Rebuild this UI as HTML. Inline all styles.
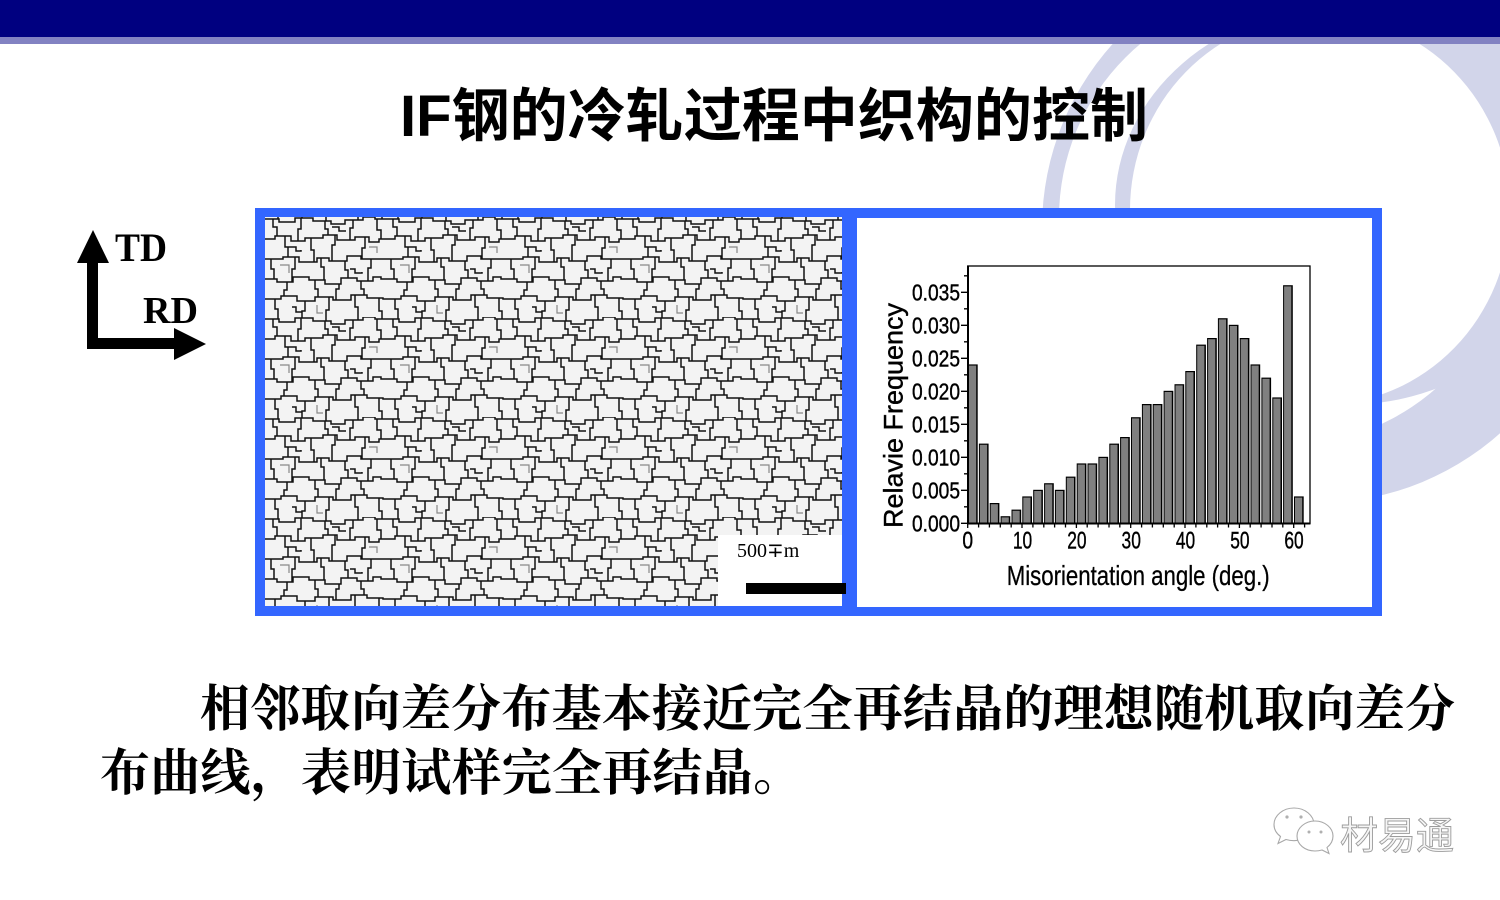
<!DOCTYPE html>
<html>
<head>
<meta charset="utf-8">
<style>
html,body{margin:0;padding:0;background:#fff;}
body{width:1500px;height:900px;overflow:hidden;}
svg{display:block;}
</style>
</head>
<body>
<svg width="1500" height="900" viewBox="0 0 1500 900" xmlns="http://www.w3.org/2000/svg">
<defs>
<pattern id="grain" patternUnits="userSpaceOnUse" x="265" y="217" width="120" height="100">
<rect width="120" height="100" fill="#f3f3f3"/>
<path fill="none" stroke="#111" stroke-width="1.5" d="
M0,2 H14 V5 H30 V1 H48 V4 H66 V7 H80 V3 H98 V0 H110 V2 H120
M0,22 H10 V19 H26 V24 H40 V21 H58 V18 H72 V23 H90 V20 H104 V25 H114 V22 H120
M0,42 H18 V40 H34 V45 H52 V41 H64 V44 H82 V39 H96 V42 H120
M0,62 H12 V65 H28 V60 H44 V63 H60 V67 H76 V61 H92 V64 H108 V60 H116 V62 H120
M0,82 H16 V79 H32 V84 H50 V80 H68 V83 H86 V78 H102 V81 H118 V82 H120
M8,2 V10 H12 V19
M36,1 V12 H33 V24
M60,4 V12 H63 V18
M88,3 V11 H85 V23
M112,2 V13 H116 V22
M20,19 V30 H23 V40
M46,21 V33 H49 V45
M70,18 V28 H67 V44
M100,20 V31 H97 V42
M6,42 V52 H9 V62
M30,40 V52 H27 V65
M56,41 V50 H59 V63
M80,44 V53 H83 V61
M106,42 V51 H103 V64
M22,65 V73 H19 V79
M50,63 V72 H53 V80
M74,67 V72 H71 V83
M96,64 V72 H99 V78
M10,82 V92 H13 V102
M40,84 V94 H37 V101
M64,80 V93 H61 V104
M90,78 V90 H93 V103
M114,81 V94 H117 V102
M13,-1 V2 M37,-1 V1 M61,-1 V4 M93,-1 V3 M117,-1 V2
M23,30 H31 V34 H36 V33
M85,52 H90 V56 H97 V55
M27,90 H31 V95 H37
M67,10 H74 V14 H81
"/>
<path fill="none" stroke="#888" stroke-width="1.2" d="M52,88 V96 H58 M15,48 H24 V56 M104,30 H112 V36"/>
</pattern>
</defs>

<!-- decorative arcs -->
<path fill="#d2d5ea" fill-rule="evenodd" d="
M1042,228 a275,275 0 1,0 550,0 a275,275 0 1,0 -550,0 Z
M1059,218 a227,227 0 1,0 454,0 a227,227 0 1,0 -454,0 Z"/>
<path fill="#d2d5ea" fill-rule="evenodd" d="
M1115,205 a230,200 0 1,0 460,0 a230,200 0 1,0 -460,0 Z
M1130,210 a190,195 0 1,0 380,0 a190,195 0 1,0 -380,0 Z"/>

<!-- header -->
<rect x="0" y="0" width="1500" height="37" fill="#000080"/>
<rect x="0" y="37" width="1500" height="7" fill="#8282c2"/>

<!-- title -->
<text x="400" y="136" font-family="'Liberation Sans','Noto Sans CJK SC',sans-serif" font-weight="700" font-size="58" fill="#000" textLength="748" lengthAdjust="spacingAndGlyphs">IF钢的冷轧过程中织构的控制</text>

<!-- TD / RD arrows -->
<rect x="87" y="260" width="11" height="89" fill="#000"/>
<polygon points="77,263 109,263 93,230" fill="#000"/>
<rect x="87" y="338" width="89" height="11" fill="#000"/>
<polygon points="174,328 174,360 206,344" fill="#000"/>
<text x="115" y="261" font-family="'Liberation Serif',serif" font-weight="700" font-size="40" textLength="52" lengthAdjust="spacingAndGlyphs">TD</text>
<text x="143" y="323" font-family="'Liberation Serif',serif" font-weight="700" font-size="38" textLength="55" lengthAdjust="spacingAndGlyphs">RD</text>

<!-- panel -->
<rect x="255" y="208" width="1127" height="408" fill="#3366ff"/>
<rect x="265" y="217" width="577" height="389" fill="url(#grain)"/>
<rect x="718" y="535" width="124" height="71" fill="#ffffff"/>
<text x="737" y="557" font-family="'Liberation Serif',serif" font-size="20" fill="#000">500∓m</text>
<rect x="746" y="583" width="100" height="11" fill="#000"/>
<rect x="857" y="218" width="515" height="389" fill="#ffffff"/>

<!-- chart -->
<g>
<rect x="967.7" y="266" width="342.3" height="257.3" fill="none" stroke="#000" stroke-width="1.3"/>
<g fill="#000">
<rect x="968" y="364.4" width="9.7" height="158.9"/>
<rect x="978.9" y="443.6" width="9.7" height="79.7"/>
<rect x="989.7" y="503" width="9.7" height="20.3"/>
<rect x="1000.6" y="516.2" width="9.7" height="7.1"/>
<rect x="1011.5" y="509.6" width="9.7" height="13.7"/>
<rect x="1022.3" y="496.4" width="9.7" height="26.9"/>
<rect x="1033.2" y="489.8" width="9.7" height="33.5"/>
<rect x="1044.1" y="483.2" width="9.7" height="40.1"/>
<rect x="1054.9" y="489.8" width="9.7" height="33.5"/>
<rect x="1065.8" y="476.6" width="9.7" height="46.7"/>
<rect x="1076.7" y="463.4" width="9.7" height="59.9"/>
<rect x="1087.5" y="463.4" width="9.7" height="59.9"/>
<rect x="1098.4" y="456.8" width="9.7" height="66.5"/>
<rect x="1109.3" y="443.6" width="9.7" height="79.7"/>
<rect x="1120.1" y="437" width="9.7" height="86.3"/>
<rect x="1131" y="417.2" width="9.7" height="106.1"/>
<rect x="1141.9" y="404" width="9.7" height="119.3"/>
<rect x="1152.7" y="404" width="9.7" height="119.3"/>
<rect x="1163.6" y="390.8" width="9.7" height="132.5"/>
<rect x="1174.5" y="384.2" width="9.7" height="139.1"/>
<rect x="1185.3" y="371" width="9.7" height="152.3"/>
<rect x="1196.2" y="344.6" width="9.7" height="178.7"/>
<rect x="1207.1" y="338" width="9.7" height="185.3"/>
<rect x="1217.9" y="318.2" width="9.7" height="205.1"/>
<rect x="1228.8" y="324.8" width="9.7" height="198.5"/>
<rect x="1239.7" y="338" width="9.7" height="185.3"/>
<rect x="1250.5" y="364.4" width="9.7" height="158.9"/>
<rect x="1261.4" y="377.6" width="9.7" height="145.7"/>
<rect x="1272.3" y="397.4" width="9.7" height="125.9"/>
<rect x="1283.1" y="285.2" width="9.7" height="238.1"/>
<rect x="1294" y="496.4" width="9.7" height="26.9"/>
</g>
<g fill="#808080">
<rect x="969" y="365.6" width="7.2" height="157.7"/>
<rect x="979.9" y="444.8" width="7.2" height="78.5"/>
<rect x="990.7" y="504.2" width="7.2" height="19.1"/>
<rect x="1001.6" y="517.4" width="7.2" height="5.9"/>
<rect x="1012.5" y="510.8" width="7.2" height="12.5"/>
<rect x="1023.3" y="497.6" width="7.2" height="25.7"/>
<rect x="1034.2" y="491" width="7.2" height="32.3"/>
<rect x="1045.1" y="484.4" width="7.2" height="38.9"/>
<rect x="1055.9" y="491" width="7.2" height="32.3"/>
<rect x="1066.8" y="477.8" width="7.2" height="45.5"/>
<rect x="1077.7" y="464.6" width="7.2" height="58.7"/>
<rect x="1088.5" y="464.6" width="7.2" height="58.7"/>
<rect x="1099.4" y="458" width="7.2" height="65.3"/>
<rect x="1110.3" y="444.8" width="7.2" height="78.5"/>
<rect x="1121.1" y="438.2" width="7.2" height="85.1"/>
<rect x="1132" y="418.4" width="7.2" height="104.9"/>
<rect x="1142.9" y="405.2" width="7.2" height="118.1"/>
<rect x="1153.7" y="405.2" width="7.2" height="118.1"/>
<rect x="1164.6" y="392" width="7.2" height="131.3"/>
<rect x="1175.5" y="385.4" width="7.2" height="137.9"/>
<rect x="1186.3" y="372.2" width="7.2" height="151.1"/>
<rect x="1197.2" y="345.8" width="7.2" height="177.5"/>
<rect x="1208.1" y="339.2" width="7.2" height="184.1"/>
<rect x="1218.9" y="319.4" width="7.2" height="203.9"/>
<rect x="1229.8" y="326" width="7.2" height="197.3"/>
<rect x="1240.7" y="339.2" width="7.2" height="184.1"/>
<rect x="1251.5" y="365.6" width="7.2" height="157.7"/>
<rect x="1262.4" y="378.8" width="7.2" height="144.5"/>
<rect x="1273.3" y="398.6" width="7.2" height="124.7"/>
<rect x="1284.1" y="286.4" width="7.2" height="236.9"/>
<rect x="1295" y="497.6" width="7.2" height="25.7"/>
</g>
<!-- axes -->
<line x1="968" y1="266" x2="968" y2="524.5" stroke="#000" stroke-width="2"/>
<line x1="967" y1="523.5" x2="1310.5" y2="523.5" stroke="#000" stroke-width="2"/>
<!-- y ticks -->
<path stroke="#000" stroke-width="1.3" fill="none" d="
M961,523.3 H968 M961,490.3 H968 M961,457.3 H968 M961,424.3 H968 M961,391.3 H968 M961,358.3 H968 M961,325.3 H968 M961,292.3 H968
M964,506.8 H968 M964,473.8 H968 M964,440.8 H968 M964,407.8 H968 M964,374.8 H968 M964,341.8 H968 M964,308.8 H968 M964,275.8 H968"/>
<!-- x ticks -->
<path stroke="#000" stroke-width="1.3" fill="none" d="
M967.7,523 V528 M978.6,523 V527.5 M989.4,523 V527.5 M1000.3,523 V527.5 M1011.2,523 V527.5
M1022,523 V528 M1032.9,523 V527.5 M1043.8,523 V527.5 M1054.6,523 V527.5 M1065.5,523 V527.5
M1076.4,523 V528 M1087.2,523 V527.5 M1098.1,523 V527.5 M1109,523 V527.5 M1119.8,523 V527.5
M1130.7,523 V528 M1141.6,523 V527.5 M1152.4,523 V527.5 M1163.3,523 V527.5 M1174.2,523 V527.5
M1185,523 V528 M1195.9,523 V527.5 M1206.8,523 V527.5 M1217.6,523 V527.5 M1228.5,523 V527.5
M1239.4,523 V528 M1250.2,523 V527.5 M1261.1,523 V527.5 M1272,523 V527.5 M1282.8,523 V527.5
M1293.7,523 V528 M1304.6,523 V527.5"/>
<!-- y labels -->
<g font-family="'Liberation Sans',sans-serif" font-size="23" fill="#000" stroke="#000" stroke-width="0.4" text-anchor="end">
<text x="960" y="531.6" textLength="48" lengthAdjust="spacingAndGlyphs">0.000</text>
<text x="960" y="498.6" textLength="48" lengthAdjust="spacingAndGlyphs">0.005</text>
<text x="960" y="465.6" textLength="48" lengthAdjust="spacingAndGlyphs">0.010</text>
<text x="960" y="432.6" textLength="48" lengthAdjust="spacingAndGlyphs">0.015</text>
<text x="960" y="399.6" textLength="48" lengthAdjust="spacingAndGlyphs">0.020</text>
<text x="960" y="366.6" textLength="48" lengthAdjust="spacingAndGlyphs">0.025</text>
<text x="960" y="333.6" textLength="48" lengthAdjust="spacingAndGlyphs">0.030</text>
<text x="960" y="300.6" textLength="48" lengthAdjust="spacingAndGlyphs">0.035</text>
</g>
<!-- x labels -->
<g font-family="'Liberation Sans',sans-serif" font-size="24" fill="#000" stroke="#000" stroke-width="0.4" text-anchor="middle">
<text x="967.7" y="548.3" textLength="10.7" lengthAdjust="spacingAndGlyphs">0</text>
<text x="1022.5" y="548.3" textLength="19.3" lengthAdjust="spacingAndGlyphs">10</text>
<text x="1076.9" y="548.3" textLength="19.3" lengthAdjust="spacingAndGlyphs">20</text>
<text x="1131.2" y="548.3" textLength="19.3" lengthAdjust="spacingAndGlyphs">30</text>
<text x="1185.5" y="548.3" textLength="19.3" lengthAdjust="spacingAndGlyphs">40</text>
<text x="1239.9" y="548.3" textLength="19.3" lengthAdjust="spacingAndGlyphs">50</text>
<text x="1294" y="548.3" textLength="19.3" lengthAdjust="spacingAndGlyphs">60</text>
</g>
<text x="1006.7" y="585" font-family="'Liberation Sans',sans-serif" font-size="28" fill="#000" stroke="#000" stroke-width="0.3" textLength="263" lengthAdjust="spacingAndGlyphs">Misorientation angle (deg.)</text>
<text transform="translate(902.3,415.5) rotate(-90)" x="0" y="0" text-anchor="middle" font-family="'Liberation Sans',sans-serif" font-size="27" fill="#000" stroke="#000" stroke-width="0.4" textLength="225" lengthAdjust="spacingAndGlyphs">Relavie Frequency</text>
</g>

<!-- body text -->
<text x="200" y="726" font-family="'Liberation Serif','Noto Serif CJK SC',serif" font-weight="700" font-size="50" fill="#000" textLength="1255" lengthAdjust="spacing">相邻取向差分布基本接近完全再结晶的理想随机取向差分</text>
<text x="100" y="790" font-family="'Liberation Serif','Noto Serif CJK SC',serif" font-weight="700" font-size="50" fill="#000" textLength="703" lengthAdjust="spacing">布曲线，表明试样完全再结晶。</text>

<!-- watermark -->
<g fill="#ffffff" stroke="#a8a8a8" stroke-width="1.1">
<path d="M1294,808 c-11,0 -20,7.5 -20,16.5 c0,5 2.5,9 6.5,12 l-2.5,7 l8,-4 c2.5,0.8 5,1.2 8,1.2 c11,0 20,-7.5 20,-16.2 c0,-9 -9,-16.5 -20,-16.5 Z"/>
<path d="M1315,821 c-10,0 -18,7 -18,15 c0,8.5 8,15 18,15 c2.5,0 5,-0.4 7,-1 l7,3.5 l-2,-6 c3.5,-2.7 6,-6.8 6,-11.5 c0,-8 -8,-15 -18,-15 Z"/>
</g>
<g fill="#b0b0b0">
<circle cx="1287" cy="817" r="1.6"/><circle cx="1301" cy="817" r="1.6"/>
<circle cx="1309" cy="832" r="1.5"/><circle cx="1321" cy="832" r="1.5"/>
</g>
<text x="1340" y="849" font-family="'Liberation Sans','Noto Sans CJK SC',sans-serif" font-size="38" fill="#f6f6f6" stroke="#9c9c9c" stroke-width="0.9">材易通</text>
</svg>
</body>
</html>
